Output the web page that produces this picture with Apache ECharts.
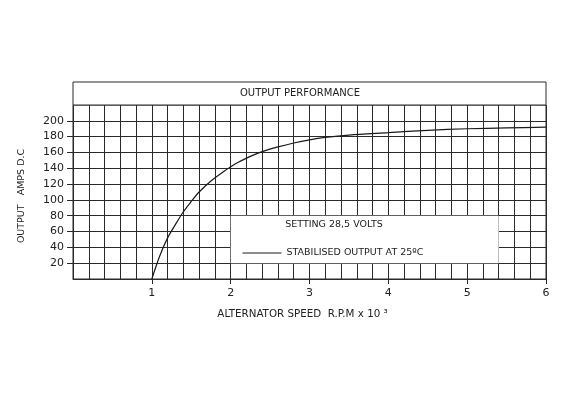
<!DOCTYPE html>
<html>
<head>
<meta charset="utf-8">
<script src="https://cdn.jsdelivr.net/npm/echarts@6/dist/echarts.min.js"></script>
<style>html,body{margin:0;padding:0;background:#fff}#c{width:566px;height:400px}</style>
</head>
<body>
<div id="c"></div>
<script>
// ---- data ----
var speed = [1.0, 1.1, 1.2, 1.3, 1.4, 1.5, 1.6, 1.75, 1.9, 2.05, 2.25, 2.4, 2.6, 2.8, 3.0, 3.2, 3.5, 4.0, 4.5, 5.0, 5.5, 6.0];
var amps  = [0, 29, 52, 69, 85, 98, 110, 124, 135, 145, 155, 161, 167, 172, 176, 179, 182, 185, 188, 190, 191, 192];
var xTicks = [1, 2, 3, 4, 5, 6];
var yTicks = [20, 40, 60, 80, 100, 120, 140, 160, 180, 200];
var chartTitle = 'OUTPUT PERFORMANCE';
var seriesName = 'STABILISED OUTPUT AT 25ºC';
var settingText = 'SETTING 28,5 VOLTS';
var boxFrom = [2, 20];
var boxTo = [5.4, 80];

var FONT = 'DejaVu Sans';
var LINE = '#2a2a2a';
var chart = echarts.init(document.getElementById('c'), null, {renderer: 'canvas'});
var pts = speed.map(function (s, i) { return [s, amps[i]]; });

chart.setOption({
  backgroundColor: '#fff',
  animation: false,
  textStyle: {fontFamily: FONT, color: '#222'},
  grid: {left: 73, right: 20, top: 105, bottom: 121, show: true, borderColor: LINE, borderWidth: 1},
  legend: {
    show: true, left: 237, top: 243, itemWidth: 39, itemHeight: 10,
    data: [seriesName],
    itemStyle: {opacity: 0},
    lineStyle: {color: '#1a1a1a', width: 1},
    textStyle: {fontFamily: FONT, fontSize: 9.5, color: '#222'}
  },
  xAxis: {
    type: 'value', min: 0, max: 6, interval: 1,
    name: 'ALTERNATOR SPEED  R.P.M x 10 ³', nameLocation: 'middle', nameGap: 30,
    nameTextStyle: {fontFamily: FONT, fontSize: 10.3, color: '#222', padding: [0, 14, 0, 0]},
    axisLine: {show: true, lineStyle: {color: LINE, width: 1}},
    axisTick: {show: true, customValues: xTicks, length: 5, lineStyle: {color: LINE}},
    axisLabel: {customValues: xTicks, fontSize: 11, color: '#222', margin: 9, fontFamily: FONT},
    splitLine: {show: true, lineStyle: {color: LINE, width: 1}},
    minorTick: {show: false, splitNumber: 5},
    minorSplitLine: {show: true, lineStyle: {color: LINE, width: 1}}
  },
  yAxis: {
    type: 'value', min: 0, max: 220, interval: 20,
    name: 'OUTPUT   AMPS D.C', nameLocation: 'middle', nameGap: 46, nameRotate: 90,
    nameTextStyle: {fontFamily: FONT, fontSize: 9.5, color: '#222', padding: [0, 8, 0, 0]},
    axisLine: {show: true, lineStyle: {color: LINE, width: 1}},
    axisTick: {show: true, customValues: yTicks, length: 6, lineStyle: {color: LINE}},
    axisLabel: {customValues: yTicks, fontSize: 11, color: '#222', margin: 9, fontFamily: FONT},
    splitLine: {show: true, lineStyle: {color: LINE, width: 1}}
  },
  series: [{
    name: seriesName, type: 'line', data: pts, symbol: 'none', smooth: 0.3,
    lineStyle: {color: '#1a1a1a', width: 1.2},
    itemStyle: {color: '#1a1a1a'},
    markArea: {
      silent: true,
      itemStyle: {color: '#ffffff', borderWidth: 0},
      label: {show: false},
      data: [[{coord: boxFrom}, {coord: boxTo}]]
    },
    z: 3
  }],
  graphic: [
    {type: 'rect', shape: {x: 73, y: 82, width: 473, height: 23}, style: {fill: '#fff', stroke: LINE, lineWidth: 1}, z: 10},
    {type: 'text', x: 300, y: 93, style: {text: chartTitle, font: '10px "DejaVu Sans"', fill: '#222', align: 'center', verticalAlign: 'middle'}, z: 11},
    {type: 'text', x: 334, y: 225, style: {text: settingText, font: '9.5px "DejaVu Sans"', fill: '#222', align: 'center', verticalAlign: 'middle'}, z: 11}
  ]
});
</script>
</body>
</html>
